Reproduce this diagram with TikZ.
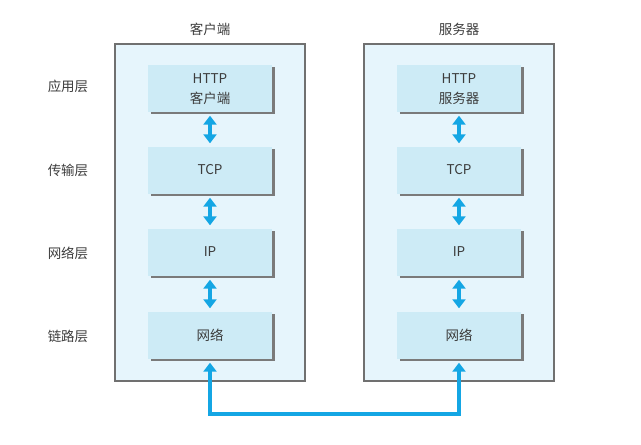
\documentclass[tikz,border=0pt]{standalone}
\usepackage{fontspec}
\setmainfont{Noto Sans CJK SC}
\usetikzlibrary{arrows.meta,calc}
\definecolor{outerfill}{HTML}{E6F5FC}
\definecolor{innerfill}{HTML}{CDEBF6}
\definecolor{bordergray}{HTML}{707070}
\definecolor{shadowgray}{HTML}{7A7A7A}
\definecolor{arrowblue}{HTML}{14A6E4}
\definecolor{txt}{HTML}{3C3C3C}
\tikzset{
  outerbox/.style={draw=bordergray, line width=1.2pt, fill=outerfill, minimum width=190pt, minimum height=337pt, inner sep=0pt},
  layerbox/.style={fill=innerfill, minimum width=124pt, minimum height=47pt, inner sep=0pt, text=txt, font=\fontsize{13.5}{20}\selectfont, align=center},
  boxshadow/.style={draw=shadowgray, line width=2.4pt},
  lbl/.style={text=txt, font=\fontsize{13.5}{16}\selectfont},
  darrow/.style={arrowblue, line width=4pt, {Triangle[width=13pt,length=9pt]}-{Triangle[width=13pt,length=9pt]}},
}
\newcommand{\shadowof}[1]{\draw[boxshadow] ([xshift=3pt,yshift=-1.2pt]#1.south west) -- ([xshift=1.2pt,yshift=-1.2pt]#1.south east) -- ([xshift=1.2pt,yshift=-3pt]#1.north east);}
\begin{document}
\begin{tikzpicture}[x=1pt,y=-1pt]
\useasboundingbox (0,0) rectangle (641,445);
\node[outerbox] (lo) at (210,212.5) {};
\node[outerbox] (ro) at (459,212.5) {};
\node[lbl] (lt) at (210,29) {客户端};
\node[lbl] (rt) at (459,29) {服务器};
\node[lbl] (l1) at (68,86) {应用层};
\node[lbl] (l2) at (68,170) {传输层};
\node[lbl] (l3) at (68,253) {网络层};
\node[lbl] (l4) at (68,336) {链路层};
\foreach \s/\x/\t in {a/210/客户端, b/459/服务器}{
  \node[layerbox] (\s1) at (\x,88) {};
  \node[text=txt, font=\fontsize{13.5}{20}\selectfont, align=center] (\s1t) at (\x,89.5) {HTTP\\\t};
  \node[layerbox] (\s2) at (\x,170) {TCP};
  \node[layerbox] (\s3) at (\x,252) {IP};
  \node[layerbox] (\s4) at (\x,335) {网络};
  \shadowof{\s1}
  \shadowof{\s2}
  \shadowof{\s3}
  \shadowof{\s4}
  \draw[darrow] ([yshift=-4pt]\s1.south) -- ([yshift=3pt]\s2.north);
  \draw[darrow] ([yshift=-4pt]\s2.south) -- ([yshift=3pt]\s3.north);
  \draw[darrow] ([yshift=-4pt]\s3.south) -- ([yshift=3pt]\s4.north);
}
\coordinate (bot) at (0,414);
\draw[darrow, line join=miter] ([yshift=-4pt]a4.south) -- (a4.south |- bot) -- (b4.south |- bot) -- ([yshift=-4pt]b4.south);
\end{tikzpicture}
\end{document}
